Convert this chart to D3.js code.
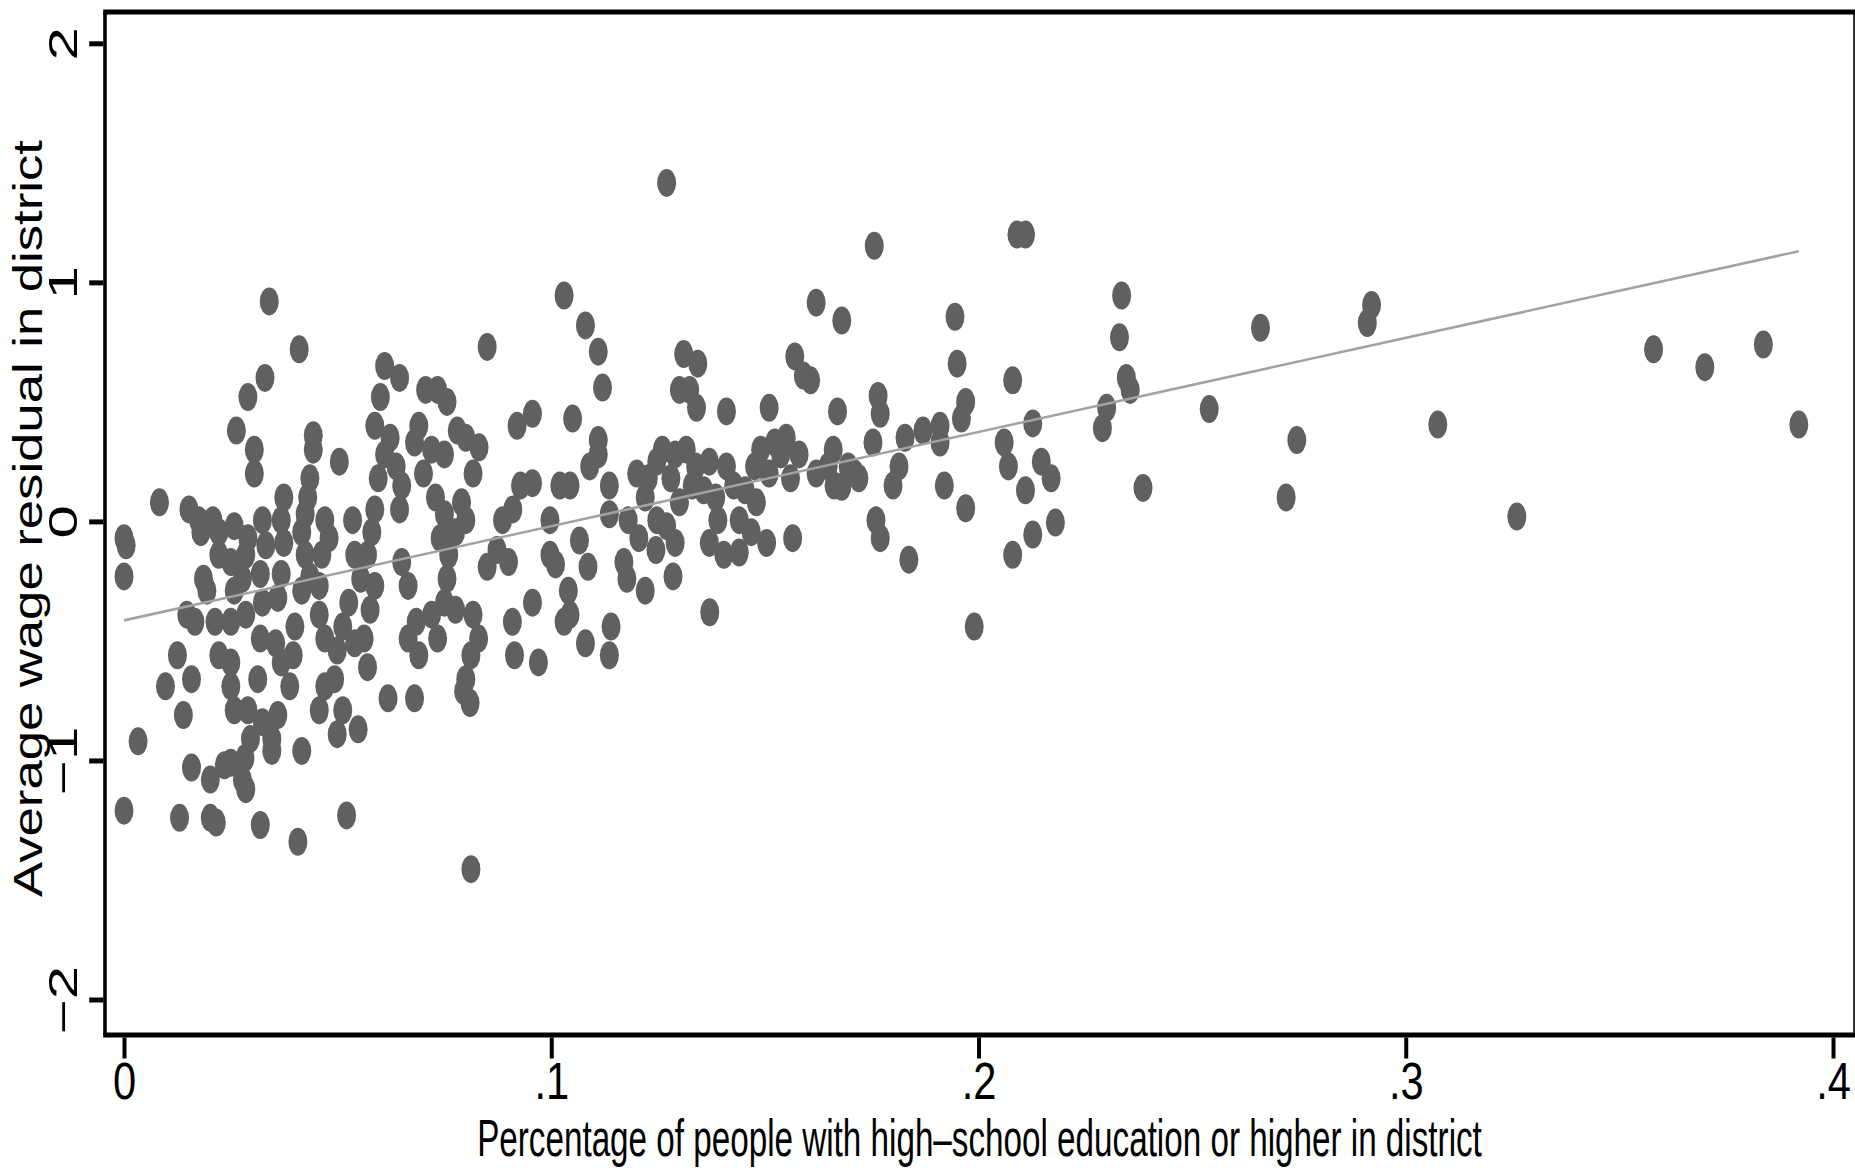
<!DOCTYPE html>
<html>
<head>
<meta charset="utf-8">
<script src="https://cdn.jsdelivr.net/npm/d3@7"></script>
<style>
  html, body { margin: 0; padding: 0; background: #fff; }
  svg { display: block; }
  text { font-family: "Liberation Sans", Arial, Helvetica, sans-serif; fill: #000; }
</style>
</head>
<body>
<svg id="chart" width="1855" height="1168"></svg>
<script>
// District share with high-school education (x) vs. average wage residual (y)
const districtPoints = [
  [0.127,1.416],[0.1756,1.153],[0.209,1.20],[0.211,1.20],[0.034,0.92],[0.041,0.72],[0.033,0.60],[0.029,0.52],
  [0.103,0.945],[0.108,0.82],[0.111,0.71],[0.112,0.56],[0.085,0.73],[0.162,0.915],[0.168,0.84],[0.1945,0.856],
  [0.195,0.66],[0.2335,0.945],[0.233,0.77],[0.266,0.81],[0.292,0.905],[0.291,0.83],[0.358,0.72],[0.370,0.645],
  [0.3837,0.74],[0.392,0.405],[0.3075,0.405],[0.326,0.02],[0.272,0.10],[0.2745,0.34],[0.254,0.47],[0.2385,0.14],
  [0.2346,0.60],[0.2355,0.55],[0.229,0.39],[0.230,0.475],[0.218,-0.005],[0.2127,-0.055],[0.208,-0.14],[0.199,-0.44],
  [0.1837,-0.16],[0.208,0.59],[0.2127,0.41],[0.2147,0.25],[0.217,0.18],[0.211,0.13],[0.207,0.23],[0.206,0.33],
  [0.197,0.055],[0.192,0.15],[0.191,0.33],[0.197,0.50],[0.196,0.43],[0.187,0.38],[0.180,0.15],[0.176,0.005],
  [0.177,-0.07],[0.1765,0.525],[0.177,0.45],[0.1753,0.33],[0.172,0.18],[0.168,0.145],[0.166,0.30],[0.167,0.46],
  [0.1607,0.59],[0.157,0.69],[0.159,0.61],[0.1537,0.28],[0.156,0.18],[0.1565,-0.07],[0.151,0.475],[0.149,0.30],
  [0.1476,0.23],[0.1454,0.13],[0.1427,0.15],[0.141,0.46],[0.144,-0.13],[0.1404,-0.14],[0.137,-0.09],[0.1371,-0.38],
  [0.1343,0.66],[0.131,0.70],[0.1324,0.55],[0.130,0.55],[0.134,0.475],[0.137,0.25],[0.1338,0.23],[0.129,0.28],
  [0.128,0.18],[0.130,0.08],[0.127,-0.02],[0.129,-0.09],[0.1285,-0.23],[0.1245,-0.12],[0.1247,0.005],[0.1227,0.18],
  [0.120,0.20],[0.122,-0.29],[0.117,-0.17],[0.1177,-0.24],[0.114,-0.44],[0.1136,-0.56],[0.108,-0.51],[0.1136,0.03],
  [0.1136,0.15],[0.111,0.34],[0.109,0.23],[0.111,0.28],[0.105,0.43],[0.1044,0.15],[0.102,0.15],[0.1066,-0.08],
  [0.1086,-0.19],[0.104,-0.29],[0.103,-0.42],[0.101,-0.18],[0.0997,0.005],[0.097,-0.59],[0.0956,-0.34],[0.0956,0.16],
  [0.0956,0.45],[0.092,0.40],[0.091,0.05],[0.0886,0.005],[0.0873,-0.12],[0.090,-0.17],[0.0914,-0.56],[0.0909,-0.42],
  [0.085,-0.19],[0.083,-0.49],[0.0817,-0.39],[0.0812,-0.56],[0.080,-0.66],[0.0795,-0.71],[0.081,-0.76],[0.0812,-1.455],
  [0.076,-0.14],[0.0776,-0.045],[0.079,0.08],[0.080,0.005],[0.0817,0.20],[0.0831,0.31],[0.080,0.35],[0.078,0.38],
  [0.0756,0.50],[0.0734,0.55],[0.0706,0.55],[0.069,0.40],[0.068,0.33],[0.072,0.30],[0.075,0.28],[0.0701,0.20],
  [0.0729,0.10],[0.075,0.03],[0.074,-0.07],[0.0756,-0.24],[0.075,-0.34],[0.0776,-0.37],[0.0734,-0.49],[0.072,-0.39],
  [0.0684,-0.42],[0.0665,-0.49],[0.068,-0.74],[0.069,-0.56],[0.0665,-0.27],[0.065,-0.17],[0.0645,0.05],[0.065,0.15],
  [0.0637,0.23],[0.0623,0.35],[0.060,0.52],[0.061,0.65],[0.0645,0.60],[0.0587,0.40],[0.061,0.28],[0.0595,0.18],
  [0.0587,0.05],[0.058,-0.045],[0.057,-0.14],[0.0587,-0.27],[0.0576,-0.37],[0.0562,-0.49],[0.057,-0.61],[0.0618,-0.74],
  [0.0548,-0.87],[0.0521,-1.23],[0.054,-0.51],[0.0535,0.005],[0.054,-0.14],[0.0554,-0.24],[0.0526,-0.34],[0.0512,-0.44],
  [0.0499,-0.54],[0.0493,-0.66],[0.0512,-0.79],[0.0499,-0.89],[0.0457,-0.79],[0.047,-0.69],[0.047,-0.49],[0.0457,-0.39],
  [0.0457,-0.27],[0.0463,-0.14],[0.048,-0.07],[0.047,0.005],[0.0504,0.25],[0.0443,0.30],[0.0443,0.36],[0.0435,0.18],
  [0.043,0.10],[0.0424,0.03],[0.0416,-0.045],[0.0424,-0.14],[0.0435,-0.23],[0.0416,-0.29],[0.040,-0.44],[0.0396,-0.56],
  [0.0388,-0.69],[0.0416,-0.96],[0.0407,-1.34],[0.0374,0.10],[0.0368,0.005],[0.0374,-0.09],[0.0368,-0.22],[0.036,-0.32],
  [0.0355,-0.51],[0.0368,-0.59],[0.036,-0.81],[0.0346,-0.91],[0.0346,-0.96],[0.0324,0.005],[0.0332,-0.10],[0.0319,-0.22],
  [0.0324,-0.34],[0.0319,-0.49],[0.0313,-0.66],[0.0324,-0.84],[0.0305,0.30],[0.0305,0.20],[0.029,-0.07],[0.0285,-0.14],
  [0.0277,-0.24],[0.0285,-0.39],[0.029,-0.79],[0.0296,-0.91],[0.0283,-0.99],[0.0277,-1.08],[0.0285,-1.12],[0.0319,-1.27],
  [0.0263,0.38],[0.0258,-0.02],[0.025,-0.17],[0.0258,-0.29],[0.025,-0.42],[0.025,-0.59],[0.025,-0.69],[0.0258,-0.79],
  [0.025,-1.01],[0.0235,-1.02],[0.0222,-0.045],[0.0222,-0.14],[0.0208,0.005],[0.0213,-0.42],[0.0222,-0.56],[0.0202,-1.08],
  [0.0216,-1.26],[0.0202,-1.24],[0.0186,-0.24],[0.0194,-0.29],[0.018,-0.045],[0.0175,0.005],[0.0166,-0.42],[0.0158,-0.66],
  [0.0158,-1.03],[0.0152,0.05],[0.0147,-0.39],[0.0139,-0.81],[0.013,-1.24],[0.0125,-0.56],[0.0097,-0.69],[0.0083,0.08],
  [0.0033,-0.92],[0.0,-0.07],[0.0,-0.23],[0.0,-1.21],[0.0005,-0.10],
  [0.0928,0.15],[0.0997,-0.14],[0.1044,-0.39],[0.118,0.005],[0.1205,-0.07],[0.122,0.10],[0.1247,0.25],[0.126,0.30],
  [0.1316,0.30],[0.133,0.15],[0.1357,0.13],[0.1385,0.10],[0.139,0.005],[0.141,0.23],[0.144,0.005],[0.1468,-0.045],
  [0.148,0.08],[0.151,0.20],[0.1504,-0.09],[0.1523,0.33],[0.155,0.35],[0.158,0.28],[0.162,0.20],[0.1648,0.23],
  [0.1695,0.23],[0.171,0.20],[0.1662,0.15],[0.1814,0.23],[0.1828,0.35],[0.191,0.40]
];

// Linear fit of residual on education share
const fitIntercept = -0.414;
const fitSlope = 3.94;

const xTickValues = [0, 0.1, 0.2, 0.3, 0.4];
const xTickLabels = ["0", ".1", ".2", ".3", ".4"];
const yTickValues = [-2, -1, 0, 1, 2];
const yTickLabels = ["\u22122", "\u22121", "0", "1", "2"];

const xTitle = "Percentage of people with high\u2013school education or higher in district";
const yTitle = "Average wage residual in district";

const frame = { left: 105, right: 1854, top: 12, bottom: 1035 };

const svg = d3.select("#chart");

const x = d3.scaleLinear().domain([0, 0.4]).range([124, 1833]);
const y = d3.scaleLinear().domain([-2, 2]).range([999.5, 43.3]);

// markers
svg.append("g")
  .selectAll("ellipse")
  .data(districtPoints)
  .join("ellipse")
  .attr("cx", d => x(d[0]))
  .attr("cy", d => y(d[1]))
  .attr("rx", 9.5)
  .attr("ry", 14)
  .attr("fill", "#606060");

// fitted line across the observed range
const xExtent = d3.extent(districtPoints, d => d[0]);
svg.append("line")
  .attr("x1", x(xExtent[0])).attr("y1", y(fitIntercept + fitSlope * xExtent[0]))
  .attr("x2", x(xExtent[1])).attr("y2", y(fitIntercept + fitSlope * xExtent[1]))
  .attr("stroke", "#a2a2a2")
  .attr("stroke-width", 2.6);

// plot frame
const frameG = svg.append("g").attr("stroke", "#000");
frameG.append("line").attr("x1", frame.left - 1.8).attr("x2", frame.right + 1).attr("y1", frame.top).attr("y2", frame.top).attr("stroke-width", 5);
frameG.append("line").attr("x1", frame.left - 1.8).attr("x2", frame.right + 1).attr("y1", frame.bottom).attr("y2", frame.bottom).attr("stroke-width", 5);
frameG.append("line").attr("x1", frame.left).attr("x2", frame.left).attr("y1", frame.top).attr("y2", frame.bottom).attr("stroke-width", 3.6);
frameG.append("line").attr("x1", frame.right).attr("x2", frame.right).attr("y1", frame.top).attr("y2", frame.bottom).attr("stroke-width", 1.6);

// x axis
const gx = svg.append("g")
  .attr("transform", `translate(0,${frame.bottom + 2.5})`)
  .call(d3.axisBottom(x).tickValues(xTickValues).tickFormat((d, i) => xTickLabels[i]).tickSize(21).tickSizeOuter(0));
gx.select(".domain").remove();
gx.selectAll(".tick line").attr("stroke", "#000").attr("stroke-width", 4);
gx.selectAll(".tick text")
  .attr("y", 0).attr("dy", null)
  .attr("font-size", 52)
  .attr("text-anchor", "middle")
  .attr("fill", "#000")
  .attr("transform", "translate(0,61.5) scale(0.8,1)");

// y axis
const gy = svg.append("g")
  .attr("transform", `translate(${frame.left - 1.8},0)`)
  .call(d3.axisLeft(y).tickValues(yTickValues).tickFormat((d, i) => yTickLabels[i]).tickSize(14).tickSizeOuter(0));
gy.select(".domain").remove();
gy.selectAll(".tick line").attr("stroke", "#000").attr("stroke-width", 5);
gy.selectAll(".tick text")
  .attr("x", 0).attr("dy", null)
  .attr("font-size", 40)
  .attr("text-anchor", "middle")
  .attr("fill", "#000")
  .attr("transform", "translate(-26,0) rotate(-90) scale(1.5,1)");

// axis titles, each squeezed or stretched along its reading direction to a set length
function fittedTitle(label, size, length, tx, ty, angle) {
  const t = svg.append("text")
    .attr("x", 0).attr("y", 0)
    .attr("text-anchor", "middle")
    .attr("font-size", size)
    .text(label);
  const k = length / t.node().getComputedTextLength();
  t.attr("transform", `translate(${tx},${ty}) rotate(${angle}) scale(${k},1)`);
  return t;
}

fittedTitle(xTitle, 52, 1005, (frame.left + frame.right) / 2, 1156, 0);
fittedTitle(yTitle, 41, 757, 42, 518.5, -90);
</script>
</body>
</html>
